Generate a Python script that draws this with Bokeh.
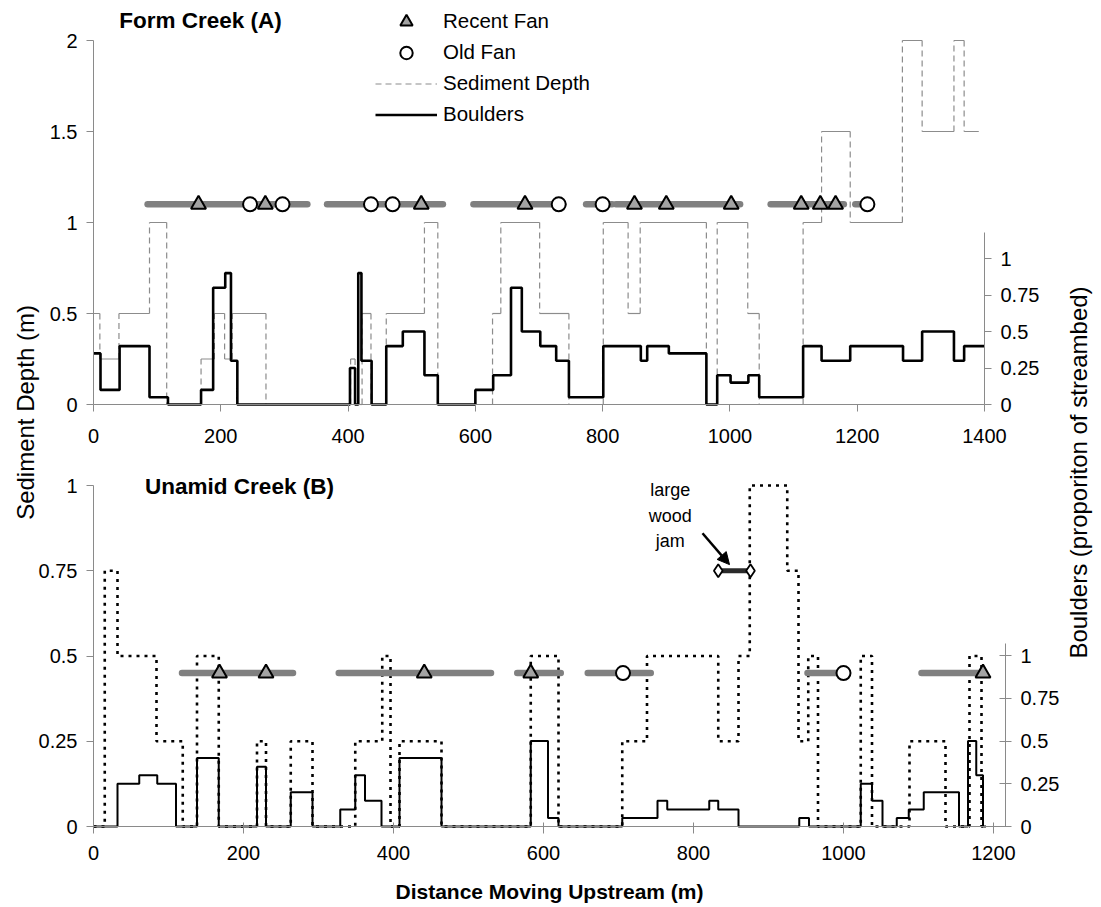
import math
from bokeh.plotting import figure
from bokeh.models import (Range1d, LinearAxis, FixedTicker, CustomJSTickFormatter, Label,
                          Arrow, NormalHead, Legend, LegendItem)
from bokeh.embed import file_html
from bokeh.resources import INLINE

# ------------------------------------------------------------------ data
# Form Creek (A): step functions given by segment edges (m) and level on each segment
form_sed_edges = [0, 10, 40, 88, 115, 169, 190, 206, 218, 271, 404, 411, 422, 436, 460, 520, 541,
                  627, 640, 701, 747, 801, 840, 859, 963, 980, 1028, 1046, 1115, 1144, 1189, 1271,
                  1302, 1352, 1368, 1391]
form_sed_depth = [0.5, 0.25, 0.5, 1.0, 0, 0.25, 0.5, 0.25, 0.5, 0, 0.25, 0, 0.5, 0, 0.5, 1.0, 0,
                  0.5, 1.0, 0.5, 0, 1.0, 0.5, 1.0, 0, 1.0, 0.5, 0, 1.0, 1.5, 1.0, 2.0, 1.5, 2.0, 1.5]
form_bld_edges = [0, 11, 41, 88, 117, 169, 188, 207, 216, 226, 403, 411, 416, 421, 437, 460, 486,
                  520, 541, 600, 628, 656, 673, 702, 727, 747, 801, 860, 870, 904, 963, 980, 1001,
                  1029, 1046, 1115, 1144, 1189, 1272, 1302, 1352, 1368, 1400]
form_bld_prop = [0.35, 0.1, 0.4, 0.05, 0, 0.1, 0.8, 0.9, 0.3, 0, 0.25, 0, 0.9, 0.3, 0, 0.4, 0.5,
                 0.2, 0, 0.1, 0.2, 0.8, 0.5, 0.4, 0.3, 0.05, 0.4, 0.3, 0.4, 0.35, 0, 0.2, 0.15,
                 0.2, 0.05, 0.4, 0.3, 0.4, 0.3, 0.5, 0.3, 0.4]
form_fan_start = [85, 367, 597, 774, 821, 1064, 1197]
form_fan_end = [336, 549, 738, 815, 1016, 1179, 1215]
form_fan_level = 1.1
form_recent_fans = [165, 270, 515, 678, 850, 900, 1002, 1112, 1142, 1166]
form_old_fans = [246, 297, 436, 470, 731, 800, 1216]

# Unamid Creek (B)
unamid_sed_edges = [0, 15, 32, 84, 119, 138, 167, 218, 230, 263, 292, 349, 385, 396, 408, 464, 583,
                    620, 705, 738, 833, 860, 875, 925, 940, 953, 966, 1023, 1038, 1088, 1136, 1168,
                    1184, 1190]
unamid_sed_depth = [0, 0.75, 0.5, 0.25, 0, 0.5, 0, 0.25, 0, 0.25, 0, 0.25, 0.5, 0, 0.25, 0, 0.5,
                    0, 0.25, 0.5, 0.25, 0.5, 1.0, 0.75, 0.25, 0.5, 0, 0.5, 0, 0.25, 0, 0.5, 0]
unamid_bld_edges = [0, 32, 61, 85, 110, 138, 167, 218, 230, 263, 292, 329, 349, 362, 384, 408, 464,
                    583, 606, 620, 705, 752, 765, 821, 833, 860, 941, 954, 1023, 1038, 1052, 1071,
                    1087, 1107, 1154, 1166, 1177, 1186, 1190]
unamid_bld_prop = [0, 0.25, 0.3, 0.25, 0, 0.4, 0, 0.35, 0, 0.2, 0, 0.1, 0.3, 0.15, 0, 0.4, 0, 0.5,
                   0.05, 0, 0.05, 0.15, 0.1, 0.15, 0.1, 0, 0.05, 0, 0.25, 0.15, 0, 0.05, 0.1, 0.2,
                   0, 0.5, 0.3, 0]
unamid_fan_start = [118, 327, 565, 659, 952, 1104]
unamid_fan_end = [266, 530, 623, 743, 1000, 1187]
unamid_fan_level = 0.45
unamid_recent_fans = [168, 230, 441, 583, 1186]
unamid_old_fans = [706, 1000]
wood_jam_x = [833, 876]
wood_jam_depth = 0.75
wood_jam_arrow = dict(x_start=812, y_start=0.86, x_end=848, y_end=0.768)

# tick values
form_x_ticks = [0, 200, 400, 600, 800, 1000, 1200, 1400]
form_sed_ticks = [0, 0.5, 1, 1.5, 2]
form_bld_ticks = [0, 0.25, 0.5, 0.75, 1]
unamid_x_ticks = [0, 200, 400, 600, 800, 1000, 1200]
unamid_sed_ticks = [0, 0.25, 0.5, 0.75, 1]
unamid_bld_ticks = [0, 0.25, 0.5, 0.75, 1]

# ------------------------------------------------------------------ layout
FONT = "Liberation Sans"
GRAY_AXIS = "#8a8a8a"
W, H = 1095, 906                        # the frame covers the whole canvas
X0 = 93                                 # pixel of distance 0 in both panels
bx_ppu = 900 / 1200.0                   # bottom panel: px per m
tx_ppu = 891 / 1400.0                   # top panel: px per m
TY0, BY0 = 404, 826                     # pixel rows of the zero lines
ts_ppu, tb_ppu, bs_ppu, bb_ppu = 182.0, 146.0, 341.0, 171.0
B_XMAX = 1216                           # end of bottom x axis (m)


def yr(zero, ppu):
    return Range1d(-(H - zero) / ppu, zero / ppu)


p = figure(width=W, height=H, output_backend="svg", toolbar_location=None, title=None,
           x_axis_type=None, y_axis_type=None,
           x_range=Range1d(-X0 / bx_ppu, (W - X0) / bx_ppu), y_range=yr(BY0, bs_ppu),
           min_border_left=0, min_border_right=0, min_border_top=0, min_border_bottom=0)
p.extra_x_ranges = {"tx": Range1d(-X0 / tx_ppu, (W - X0) / tx_ppu)}
p.extra_y_ranges = {"ts": yr(TY0, ts_ppu), "tb": yr(TY0, tb_ppu), "bb": yr(BY0, bb_ppu)}
p.outline_line_color = None
p.background_fill_color = "white"
p.border_fill_color = "white"


def add_axis(place, ticks, bounds, loc, tick_in=0, tick_out=7, standoff=9, **names):
    ax = LinearAxis(fixed_location=loc, **names)
    ax.ticker = FixedTicker(ticks=ticks, minor_ticks=[])
    ax.bounds = bounds
    ax.formatter = CustomJSTickFormatter(code="return String(tick)")
    ax.axis_line_color = GRAY_AXIS
    ax.major_tick_line_color = GRAY_AXIS
    ax.minor_tick_line_color = None
    ax.major_tick_in = tick_in
    ax.major_tick_out = tick_out
    ax.major_label_standoff = standoff
    ax.major_label_text_font = FONT
    ax.major_label_text_font_size = "20px"
    ax.major_label_text_color = "black"
    p.add_layout(ax, place)
    return ax


# bottom panel axes
add_axis("below", unamid_x_ticks, (0, B_XMAX), 0, tick_in=4, tick_out=7, standoff=12)
add_axis("left", unamid_sed_ticks, (0, 1), 0)
add_axis("right", unamid_bld_ticks, (0, 1.07), B_XMAX, tick_in=6, tick_out=6, y_range_name="bb")
# top panel axes
add_axis("below", form_x_ticks, (0, 1400), 0, standoff=17, x_range_name="tx", y_range_name="ts")
add_axis("left", form_sed_ticks, (0, 2), 0, x_range_name="tx", y_range_name="ts")
add_axis("right", form_bld_ticks, (0, 1.18), 1400, x_range_name="tx", y_range_name="tb")

# ------------------------------------------------------------------ Form Creek (A)
hx0, hx1 = form_sed_edges[:-1], form_sed_edges[1:]
p.segment(x0=hx0, y0=form_sed_depth, x1=hx1, y1=form_sed_depth, x_range_name="tx",
          y_range_name="ts", line_color="#8c8c8c", line_width=1.2)
vx = form_sed_edges[1:-1]
sed_top_dash = p.segment(x0=vx, y0=form_sed_depth[:-1], x1=vx, y1=form_sed_depth[1:],
                         x_range_name="tx", y_range_name="ts", line_color="#8c8c8c",
                         line_width=1.2, line_dash="6 4")
bld_top = p.step(x=form_bld_edges, y=form_bld_prop + [form_bld_prop[-1]], mode="after",
                 x_range_name="tx", y_range_name="tb", line_color="black", line_width=2.6)
p.segment(x0=form_fan_start, x1=form_fan_end, y0=[form_fan_level] * len(form_fan_start),
          y1=[form_fan_level] * len(form_fan_start), x_range_name="tx", y_range_name="ts",
          line_color="#808080", line_width=6.5, line_cap="round")
tri_top = p.scatter(x=form_recent_fans, y=[form_fan_level] * len(form_recent_fans),
                    marker="triangle", size=15, fill_color="#a3a3a3", line_color="black",
                    line_width=2, x_range_name="tx", y_range_name="ts")
circ_top = p.scatter(x=form_old_fans, y=[form_fan_level] * len(form_old_fans), marker="circle",
                     size=14, fill_color="white", line_color="black", line_width=2,
                     x_range_name="tx", y_range_name="ts")

# ------------------------------------------------------------------ Unamid Creek (B)
p.step(x=unamid_sed_edges, y=unamid_sed_depth + [unamid_sed_depth[-1]], mode="after",
       line_color="black", line_width=2.6, line_dash="3 5")
p.step(x=unamid_bld_edges, y=unamid_bld_prop + [unamid_bld_prop[-1]], mode="after",
       y_range_name="bb", line_color="black", line_width=2)
p.segment(x0=unamid_fan_start, x1=unamid_fan_end, y0=[unamid_fan_level] * len(unamid_fan_start),
          y1=[unamid_fan_level] * len(unamid_fan_start), line_color="#808080", line_width=6.5,
          line_cap="round")
p.scatter(x=unamid_recent_fans, y=[unamid_fan_level] * len(unamid_recent_fans), marker="triangle",
          size=15, fill_color="#a3a3a3", line_color="black", line_width=2)
p.scatter(x=unamid_old_fans, y=[unamid_fan_level] * len(unamid_old_fans), marker="circle",
          size=14, fill_color="white", line_color="black", line_width=2)
p.segment(x0=[wood_jam_x[0]], x1=[wood_jam_x[1]], y0=[wood_jam_depth], y1=[wood_jam_depth],
          line_color="#2a2a2a", line_width=5)
p.scatter(x=wood_jam_x, y=[wood_jam_depth] * len(wood_jam_x), marker="diamond", size=13,
          fill_color="white", line_color="black", line_width=1.8)
p.add_layout(Arrow(end=NormalHead(size=12, fill_color="black", line_color="black"),
                   line_color="black", line_width=2.5, **wood_jam_arrow))
p.add_layout(Label(x=769, y=0.912, text="large\nwood\njam", text_font=FONT,
                   text_font_size="18px", text_align="center", text_baseline="middle",
                   text_line_height=1.28, text_color="black"))

# ------------------------------------------------------------------ legend
legend = Legend(items=[LegendItem(label="Recent Fan", renderers=[tri_top]),
                       LegendItem(label="Old Fan", renderers=[circ_top]),
                       LegendItem(label="Sediment Depth", renderers=[sed_top_dash]),
                       LegendItem(label="Boulders", renderers=[bld_top])],
                location=(375, H - 129.5), glyph_width=62, glyph_height=31, spacing=0,
                padding=0, margin=0, border_line_color=None, background_fill_alpha=0,
                label_standoff=6, label_text_font=FONT, label_text_font_size="20.5px",
                label_text_color="black")
p.add_layout(legend)

# ------------------------------------------------------------------ titles (page positions)
def bx(px):
    return (px - X0) / bx_ppu


def by(py):
    return (BY0 - py) / bs_ppu


def text(px, py, s, size, bold=False, angle=0.0):
    p.add_layout(Label(x=bx(px), y=by(py), text=s, text_font=FONT, text_font_size=size,
                       text_font_style="bold" if bold else "normal", text_align="center",
                       text_baseline="middle", angle=angle, text_color="black"))


text(200, 20, "Form Creek (A)", "22.5px", bold=True)
text(239, 486, "Unamid Creek (B)", "22.5px", bold=True)
text(549, 891, "Distance Moving Upstream (m)", "21px", bold=True)
text(25, 412, "Sediment Depth (m)", "24px", angle=math.pi / 2)
text(1078, 472, "Boulders (proporiton of streambed)", "24px", angle=math.pi / 2)

open("out.html", "w").write(file_html(p, INLINE))
